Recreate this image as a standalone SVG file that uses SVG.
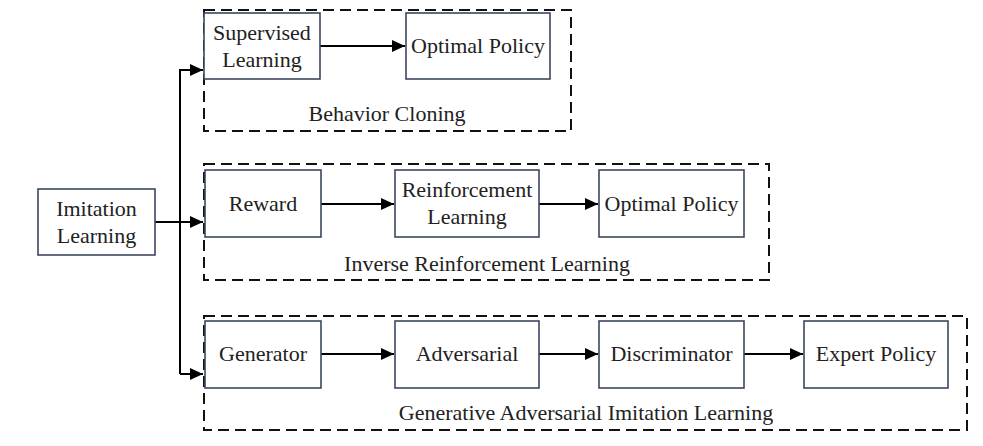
<svg xmlns="http://www.w3.org/2000/svg" width="983" height="446" viewBox="0 0 983 446">
<defs>
<style>
.box{fill:#fff;stroke:#3c4660;stroke-width:1.6}
.grp{fill:none;stroke:#111;stroke-width:2;stroke-dasharray:11 6}
.t{font-family:"Liberation Serif","Times New Roman",serif;font-size:22px;fill:#222;text-anchor:middle}
.c{fill:none;stroke:#000;stroke-width:2}
</style>
<marker id="ah" markerWidth="13" markerHeight="12" refX="13" refY="6" orient="auto" markerUnits="userSpaceOnUse">
<path d="M0,0 L13,6 L0,12 z" fill="#000"/>
</marker>
</defs>
<rect width="983" height="446" fill="#fff"/>
<g id="groups">
<g id="bc"><rect class="grp" x="204" y="10" width="367" height="121"/><text class="t" x="387" y="121">Behavior Cloning</text></g>
<g id="irl"><rect class="grp" x="204" y="164" width="565" height="116"/><text class="t" x="487" y="271">Inverse Reinforcement Learning</text></g>
<g id="gail"><rect class="grp" x="204" y="316" width="763" height="114"/><text class="t" x="586" y="420">Generative Adversarial Imitation Learning</text></g>
</g>
<g id="connectors">
<path class="c" d="M155,222 H203" marker-end="url(#ah)"/>
<path class="c" d="M180,374 V70 H203" marker-end="url(#ah)"/>
<path class="c" d="M180,374 H203" marker-end="url(#ah)"/>
<path class="c" d="M320,46 H405" marker-end="url(#ah)"/>
<path class="c" d="M321,204 H394" marker-end="url(#ah)"/>
<path class="c" d="M539,204 H598" marker-end="url(#ah)"/>
<path class="c" d="M321,354 H394" marker-end="url(#ah)"/>
<path class="c" d="M539,354 H598" marker-end="url(#ah)"/>
<path class="c" d="M744,354 H803" marker-end="url(#ah)"/>
</g>
<g id="imitation"><rect class="box" x="38" y="189" width="117" height="66"/><text class="t" x="96.5" y="216">Imitation</text><text class="t" x="96.5" y="243">Learning</text></g>
<g id="supervised"><rect class="box" x="204" y="13" width="116" height="66"/><text class="t" x="262" y="40">Supervised</text><text class="t" x="262" y="67">Learning</text></g>
<g id="optimal1"><rect class="box" x="406" y="13" width="144" height="66"/><text class="t" x="478" y="53">Optimal Policy</text></g>
<g id="reward"><rect class="box" x="205" y="170" width="116" height="67"/><text class="t" x="263" y="211">Reward</text></g>
<g id="rl"><rect class="box" x="395" y="170" width="144" height="67"/><text class="t" x="467" y="197">Reinforcement</text><text class="t" x="467" y="224">Learning</text></g>
<g id="optimal2"><rect class="box" x="599" y="170" width="145" height="67"/><text class="t" x="671.5" y="211">Optimal Policy</text></g>
<g id="generator"><rect class="box" x="205" y="321" width="116" height="67"/><text class="t" x="263" y="361">Generator</text></g>
<g id="adversarial"><rect class="box" x="395" y="321" width="144" height="67"/><text class="t" x="467" y="361">Adversarial</text></g>
<g id="discriminator"><rect class="box" x="599" y="321" width="145" height="67"/><text class="t" x="671.5" y="361">Discriminator</text></g>
<g id="expert"><rect class="box" x="804" y="321" width="144" height="67"/><text class="t" x="876" y="361">Expert Policy</text></g>
</svg>
